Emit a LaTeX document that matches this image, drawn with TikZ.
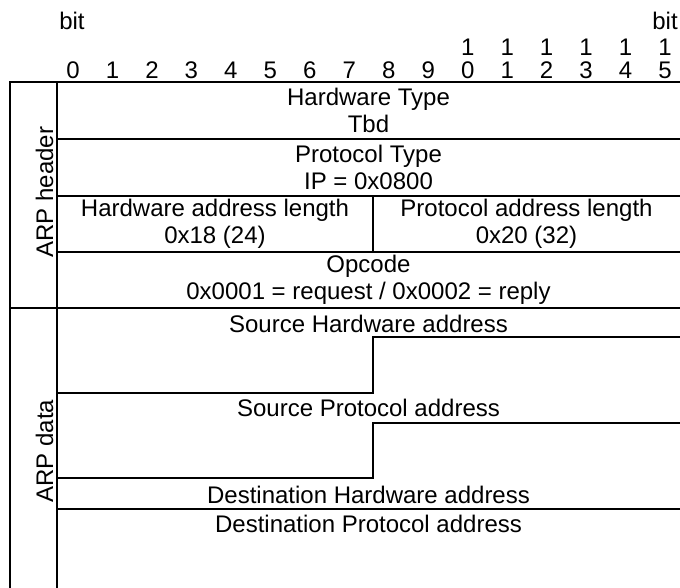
\documentclass[tikz,border=0pt]{standalone}
\usepackage{fontspec}
\setmainfont{Liberation Sans}
\begin{document}
\begin{tikzpicture}[x=1pt,y=-1pt,
  rule/.style={line width=2pt},
  lbl/.style={font=\fontsize{24}{27}\selectfont, inner sep=0pt, align=center},
  side/.style={lbl, rotate=90, anchor=base}]
\useasboundingbox (0,0) rectangle (680,588);
% frame and field borders
\draw[rule] (10,588) -- (10,82) -- (680,82);
\draw[rule] (57,82) -- (57,588);
\draw[rule] (57,139) -- (680,139);
\draw[rule] (57,196) -- (680,196);
\draw[rule] (373,196) -- (373,252);
\draw[rule] (57,252) -- (680,252);
\draw[rule] (10,308) -- (680,308);
\draw[rule] (680,337) -- (373,337) -- (373,393) -- (57,393);
\draw[rule] (680,423) -- (373,423) -- (373,478) -- (57,478);
\draw[rule] (57,509) -- (680,509);
% bit ruler
\node[lbl] (bitL) at (72,21) {bit};
\node[lbl] (bitR) at (665,21) {bit};
\foreach \i in {0,...,15} {
  \pgfmathtruncatemacro\ones{mod(\i,10)}
  \node[lbl] (b\i) at ({73+39.47*\i},70) {\ones};
}
\foreach \i in {10,...,15} {
  \node[lbl] (t\i) at ({73+39.47*\i},47) {1};
}
% header fields
\node[lbl] (hwtype) at (368.5,110.5) {Hardware Type\\Tbd};
\node[lbl] (prtype) at (368.5,167.5) {Protocol Type\\IP = 0x0800};
\node[lbl] (hwlen) at (215,224) {Hardware address length\\0x18 (24)};
\node[lbl] (prlen) at (526.5,224) {Protocol address length\\0x20 (32)};
\node[lbl] (opcode) at (368.5,280) {Opcode\\0x0001 = request / 0x0002 = reply};
% data fields
\node[lbl, anchor=base] (shw) at (368.5,332.5) {Source Hardware address};
\node[lbl, anchor=base] (spr) at (368.5,416.5) {Source Protocol address};
\node[lbl, anchor=base] (dhw) at (368.5,503.5) {Destination Hardware address};
\node[lbl, anchor=base] (dpr) at (368.5,532.5) {Destination Protocol address};
% side labels
\node[side] (arphdr) at (53,192) {ARP header};
\node[side] (arpdata) at (53,451) {ARP data};
\end{tikzpicture}
\end{document}
